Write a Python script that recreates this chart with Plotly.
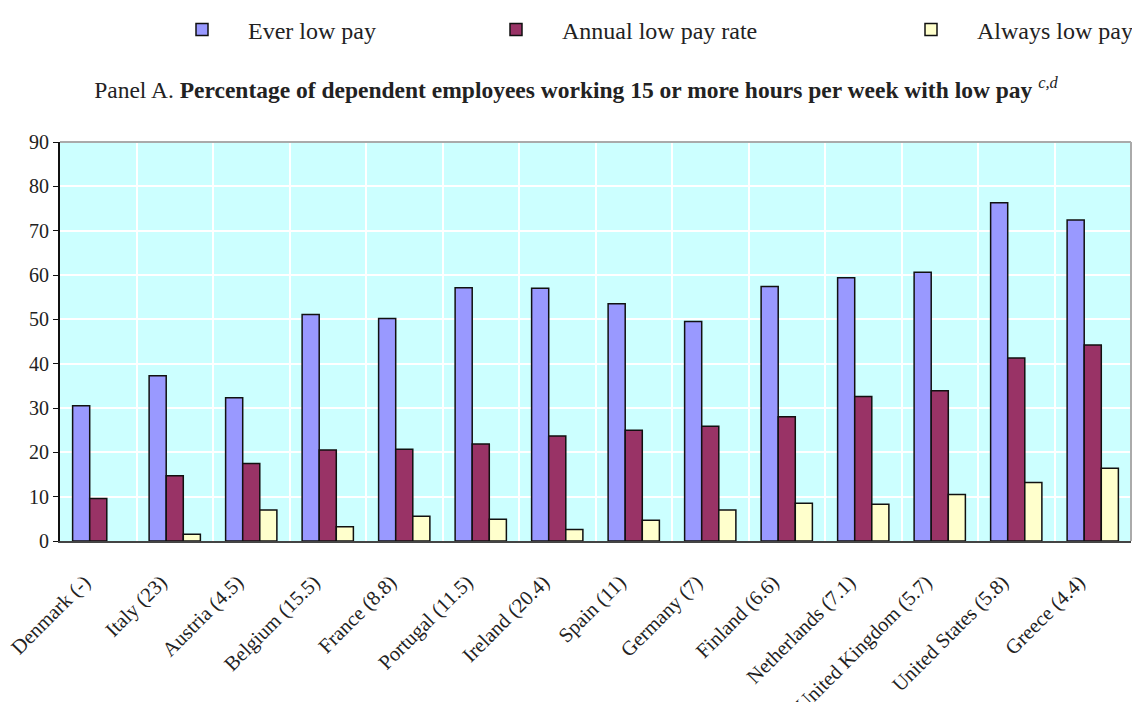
import plotly.graph_objects as go

categories = ["Denmark (-)", "Italy (23)", "Austria (4.5)", "Belgium (15.5)", "France (8.8)",
              "Portugal (11.5)", "Ireland (20.4)", "Spain (11)", "Germany (7)", "Finland (6.6)",
              "Netherlands (7.1)", "United Kingdom (5.7)", "United States (5.8)", "Greece (4.4)"]
ever_low_pay = [30.5, 37.3, 32.3, 51.1, 50.2, 57.1, 57.0, 53.5, 49.5, 57.4, 59.4, 60.6, 76.3, 72.4]
annual_low_pay_rate = [9.6, 14.7, 17.5, 20.5, 20.7, 21.9, 23.7, 25.0, 25.9, 28.0, 32.6, 33.9, 41.3, 44.2]
always_low_pay = [None, 1.5, 7.0, 3.2, 5.6, 4.9, 2.6, 4.7, 7.0, 8.5, 8.3, 10.5, 13.2, 16.4]
y_ticks = [0, 10, 20, 30, 40, 50, 60, 70, 80, 90]

FONT = "Liberation Serif"

series = [
    ("Ever low pay", ever_low_pay, "#9999FF", "legend"),
    ("Annual low pay rate", annual_low_pay_rate, "#993366", "legend2"),
    ("Always low pay", always_low_pay, "#FFFFCC", "legend3"),
]

fig = go.Figure()
for name, vals, color, leg in series:
    fig.add_trace(go.Bar(
        x=categories, y=vals, name=name, legend=leg,
        marker=dict(color=color, line=dict(color="#111111", width=1.5)),
    ))

W, H = 1140, 702
OFF = 8  # page body margin
ml, mr, mt, mb = 60 - OFF, 9 + OFF, 142 - OFF, 161 + OFF

legend_common = dict(orientation="h", yref="container", yanchor="middle", y=1 - (30 - OFF) / H,
                     xref="container", xanchor="left", bgcolor="rgba(0,0,0,0)",
                     itemwidth=82,
                     font=dict(family=FONT, size=24, color="#222222"))

fig.update_layout(
    width=W, height=H,
    margin=dict(l=ml, r=mr, t=mt, b=mb, autoexpand=False),
    paper_bgcolor="white",
    plot_bgcolor="#CCFFFF",
    barmode="group",
    bargap=0.33,
    bargroupgap=0.0,
    font=dict(family=FONT, size=16, color="#222222"),
    showlegend=True,
    legend=dict(**legend_common, x=(156 - OFF) / W),
    legend2=dict(**legend_common, x=(470 - OFF) / W),
    legend3=dict(**legend_common, x=(885 - OFF) / W),
    title=dict(
        text="Panel A. <b>Percentage of dependent employees working 15 or more hours per week with low pay</b> <sup><i>c,d</i></sup>",
        xref="container", x=(576 - OFF) / W, xanchor="center",
        yref="container", y=1 - (90 - OFF) / H, yanchor="middle",
        font=dict(family=FONT, size=23.5, color="#222222"),
    ),
    xaxis=dict(
        tickson="boundaries",
        showgrid=True, gridcolor="white", gridwidth=1.5,
        ticks="", tickangle=-45,
        ticklabelstandoff=19, ticklabelshift=-14,
        tickfont=dict(family=FONT, size=20.5, color="#222222"),
        showline=True, linecolor="#444444", linewidth=2, mirror=False,
    ),
    yaxis=dict(
        range=[0, 90], tickvals=y_ticks,
        showgrid=True, gridcolor="white", gridwidth=1.5,
        ticks="outside", ticklen=5, tickcolor="#111111",
        tickfont=dict(family=FONT, size=20, color="#222222"),
        showline=True, linecolor="#111111", linewidth=2,
        zeroline=False,
    ),
)

# plot frame: top and right border in gray
fig.add_shape(type="line", xref="paper", yref="paper", x0=0, x1=1, y0=1, y1=1,
              line=dict(color="#aaaaaa", width=2))
fig.add_shape(type="line", xref="paper", yref="paper", x0=1, x1=1, y0=0, y1=1,
              line=dict(color="#aaaaaa", width=2))

fig.write_html("out.html")
